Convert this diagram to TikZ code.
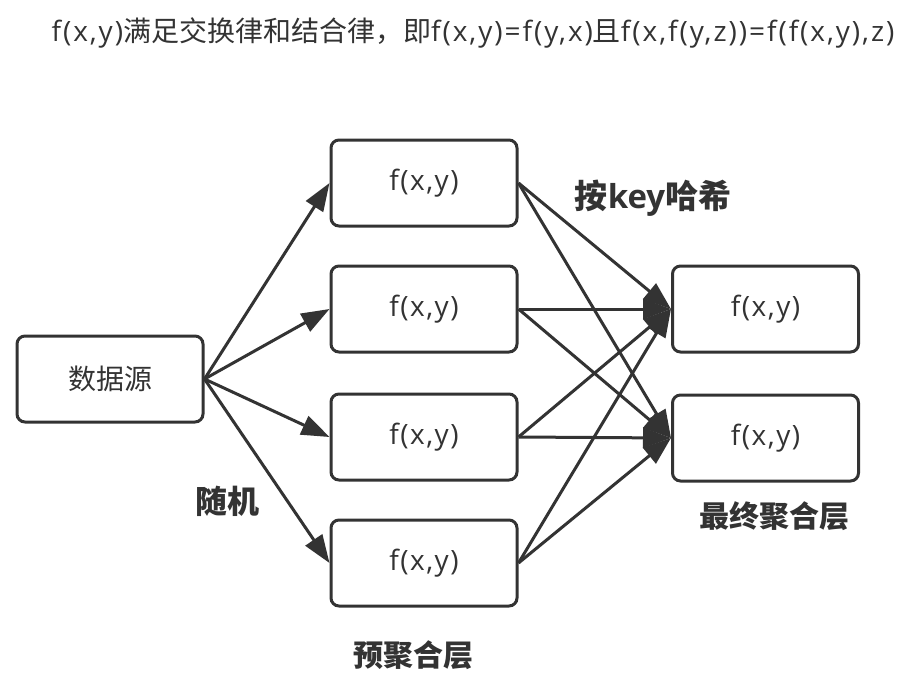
\documentclass[tikz,border=0pt]{standalone}
\usepackage{fontspec}
\setmainfont{Open Sans}
\newfontfamily\cjk{Noto Sans CJK SC}
\newfontfamily\latt[LetterSpace=5.5]{Open Sans}
\newfontfamily\lath[LetterSpace=7]{Open Sans}
\newfontfamily\latb{Open Sans}
\usetikzlibrary{arrows.meta}
\definecolor{ink}{HTML}{333333}
\begin{document}
\begin{tikzpicture}[x=1pt,y=-1pt,
  box/.style={draw=ink, line width=3pt, rounded corners=8pt, minimum width=186pt,
    minimum height=86pt, inner sep=0pt, text=ink, font=\fontsize{28}{32}\latt},
  arr/.style={draw=ink, line width=3pt, -{Triangle[length=28pt,width=20pt]}},
  lbl/.style={text=ink, inner sep=0pt, font=\fontsize{30}{34}\cjk\bfseries}]
\useasboundingbox[fill=white] (0,0) rectangle (920,696);
\node[text=ink, inner sep=0pt, font=\fontsize{28}{32}\lath] (title) at (473,33)
  {f(x,y){\cjk 满足交换律和结合律，即}f(x,y)=f(y,x){\cjk 且}f(x,f(y,z))=f(f(x,y),z)};
\node[box, font=\fontsize{28}{32}\cjk] (src) at (110,379) {数据源};
\node[box] (p1) at (424,183) {f(x,y)};
\node[box] (p2) at (424,309) {f(x,y)};
\node[box] (p3) at (424,437) {f(x,y)};
\node[box] (p4) at (424,563) {f(x,y)};
\node[box] (fa) at (765.5,309) {f(x,y)};
\node[box] (fb) at (765.5,438) {f(x,y)};
\foreach \p in {p1,p2,p3,p4} \draw[arr] (src.east) -- (\p.west);
\foreach \p in {p1,p2,p3,p4} {
  \draw[arr] (\p.east) -- (fa.west);
  \draw[arr] (\p.east) -- (fb.west);
}
\node[lbl, font=\fontsize{33}{37}\cjk\bfseries] (hash) at (653,198) {按{\latb\bfseries key}哈希};
\node[lbl, font=\fontsize{32}{36}\cjk\bfseries] (rand) at (227,501) {随机};
\node[lbl] (pre) at (413,655) {预聚合层};
\node[lbl] (fin) at (774,516) {最终聚合层};
\end{tikzpicture}
\end{document}
